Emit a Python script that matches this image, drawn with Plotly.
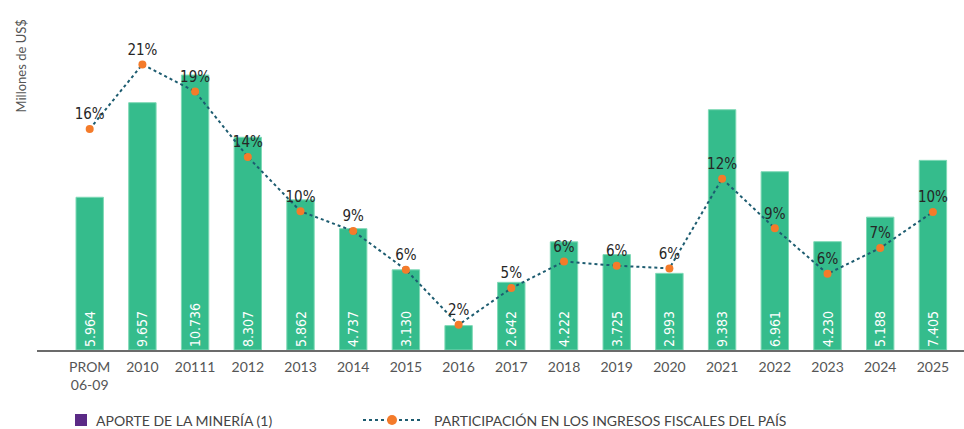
import plotly.graph_objects as go

categories = ["PROM<br>06-09", "2010", "20111", "2012", "2013", "2014", "2015", "2016",
              "2017", "2018", "2019", "2020", "2021", "2022", "2023", "2024", "2025"]
aporte = [5964, 9657, 10736, 8307, 5862, 4737, 3130, 952,
          2642, 4222, 3725, 2993, 9383, 6961, 4230, 5188, 7405]
aporte_labels = ["5.964", "9.657", "10.736", "8.307", "5.862", "4.737", "3.130", "952",
                 "2.642", "4.222", "3.725", "2.993", "9.383", "6.961", "4.230", "5.188", "7.405"]
participacion = [16.25, 21.0, 19.0, 14.2, 10.2, 8.75, 5.9, 1.85,
                 4.55, 6.5, 6.2, 6.0, 12.6, 8.95, 5.6, 7.5, 10.15]
participacion_labels = ["16%", "21%", "19%", "14%", "10%", "9%", "6%", "2%",
                        "5%", "6%", "6%", "6%", "12%", "9%", "6%", "7%", "10%"]
legend_names = ["APORTE DE LA MINERÍA (1)", "PARTICIPACIÓN EN LOS INGRESOS FISCALES DEL PAÍS"]

BAR = "#35BC8C"
LINE = "#1d5c70"
DOT = "#F47B2A"
LEG_SQ = "#5B2A86"
COND = "Liberation Sans Narrow, DejaVu Sans Condensed, Roboto Condensed, Roboto, sans-serif"
TXT = "Lato"

L, T, B, W, H = 37, 10, 79, 964, 429
PW, PH = W - L, H - T - B


def px_x(x):
    return (x - L) / PW


def px_y(y):
    return (H - B - y) / PH


fig = go.Figure()

inside_text = [t if v > 2000 else "" for t, v in zip(aporte_labels, aporte)]
fig.add_trace(go.Bar(
    x=categories, y=aporte, marker=dict(color=BAR, line=dict(color="#7fd9b6", width=1)),
    width=0.52, text=inside_text, textposition="inside", insidetextanchor="start",
    textangle=-90, textfont=dict(family=COND, size=14, color="white"),
    constraintext="none", showlegend=False, hoverinfo="skip", cliponaxis=False))

for c, v, t in zip(categories, aporte, aporte_labels):
    if v <= 2000:
        fig.add_annotation(x=c, y=0, text=t, showarrow=False, yanchor="bottom",
                           yshift=2, font=dict(family=COND, size=14, color="white"))

fig.add_trace(go.Scatter(
    x=categories, y=participacion, yaxis="y2", mode="lines+markers+text",
    line=dict(color=LINE, width=2, dash="dot"),
    marker=dict(color=DOT, size=8),
    text=participacion_labels, textposition="top center",
    textfont=dict(family=COND, size=15, color="#262626"),
    cliponaxis=False, hoverinfo="skip", showlegend=False))

# y-axis title
fig.add_annotation(xref="paper", yref="paper", x=px_x(20), y=px_y(18), text="Millones de US$",
                   textangle=-90, showarrow=False, xanchor="center", yanchor="top",
                   font=dict(family=TXT, size=13, color="#555555"))

# manual legend
ly = px_y(420)
fig.add_shape(type="rect", xref="paper", yref="paper", x0=px_x(75), x1=px_x(87),
              y0=px_y(426), y1=px_y(414), fillcolor=LEG_SQ, line=dict(width=0))
fig.add_annotation(xref="paper", yref="paper", x=px_x(94), y=ly, text=legend_names[0],
                   showarrow=False, xanchor="left", yanchor="middle",
                   font=dict(family=TXT, size=14, color="#444444"))
fig.add_shape(type="line", xref="paper", yref="paper", x0=px_x(363), x1=px_x(423),
              y0=ly, y1=ly, line=dict(color=LINE, width=2, dash="dot"))
fig.add_shape(type="circle", xref="paper", yref="paper", x0=px_x(387), x1=px_x(397),
              y0=px_y(425), y1=px_y(415), fillcolor=DOT, line=dict(width=0))
fig.add_annotation(xref="paper", yref="paper", x=px_x(432), y=ly, text=legend_names[1],
                   showarrow=False, xanchor="left", yanchor="middle",
                   font=dict(family=TXT, size=14, color="#444444"))

fig.update_layout(
    width=W, height=H, margin=dict(l=L, r=0, t=T, b=B, autoexpand=False),
    paper_bgcolor="white", plot_bgcolor="white",
    showlegend=False,
    xaxis=dict(type="category", range=[-1.0, 16.59], showgrid=False, showline=True,
               linecolor="#6b6b6b", linewidth=1.5, ticks="outside", ticklen=3,
               tickcolor="rgba(0,0,0,0)",
               tickfont=dict(family=TXT, size=14, color="#555555")),
    yaxis=dict(range=[0, 13276], visible=False),
    yaxis2=dict(range=[0, 25], overlaying="y", visible=False),
)

fig.write_html("out.html")
